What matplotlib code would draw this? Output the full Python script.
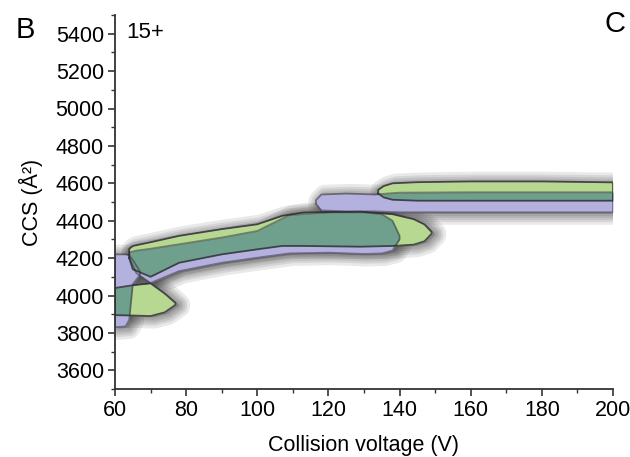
import numpy as np
import matplotlib
matplotlib.use('Agg')
import matplotlib.pyplot as plt
import matplotlib.patheffects as pe
from matplotlib.ticker import MultipleLocator

plt.rcParams['font.family'] = ['Liberation Sans', 'DejaVu Sans']

# ---------------- CIU features read off the fingerprint ----------------
# sample 1 (purple): collision voltage, lower CCS edge, upper CCS edge
a1_v  = [60, 63, 64, 65, 67]
a1_lo = [3830, 3835, 3870, 4060, 4110]
a1_hi = [4220, 4220, 4215, 4190, 4130]

a2_v  = [64, 66, 70, 78, 90, 100, 109, 120, 130, 135, 138, 140]
a2_lo = [4200, 4120, 4067, 4130, 4175, 4202, 4225, 4229, 4222, 4225, 4240, 4300]
a2_hi = [4230, 4240, 4250, 4274, 4310, 4345, 4430, 4445, 4445, 4435, 4400, 4320]

a3_v  = [116.5, 118, 125, 133, 140, 160, 200]
a3_lo = [4490, 4455, 4450, 4450, 4445, 4445, 4445]
a3_hi = [4510, 4540, 4545, 4540, 4550, 4552, 4552]

# sample 2 (green)
b1_v  = [60, 65, 70, 74, 77]
b1_lo = [3895, 3893, 3890, 3910, 3950]
b1_hi = [4040, 4055, 4065, 4010, 3960]

b2_v  = [64, 65, 70, 78, 90, 100, 107, 113, 129, 138, 144, 147, 149]
b2_lo = [4200, 4140, 4100, 4175, 4220, 4247, 4265, 4265, 4261, 4265, 4272, 4290, 4330]
b2_hi = [4250, 4265, 4285, 4319, 4355, 4381, 4426, 4444, 4448, 4435, 4408, 4380, 4340]

b3_v  = [134, 135.5, 138, 145, 160, 180, 200]
b3_lo = [4545, 4525, 4512, 4507, 4507, 4507, 4507]
b3_hi = [4565, 4585, 4600, 4606, 4610, 4610, 4605]

sample1 = [(a1_v, a1_lo, a1_hi), (a2_v, a2_lo, a2_hi), (a3_v, a3_lo, a3_hi)]
sample2 = [(b1_v, b1_lo, b1_hi), (b2_v, b2_lo, b2_hi), (b3_v, b3_lo, b3_hi)]

purple = '#b4b1de'
green = '#b7d891'
teal = '#6f9f8d'
edge = '#2f2a36'

fig = plt.figure(figsize=(6.3, 4.57), dpi=100)
ax = fig.add_axes([115/630, 1-389/457, 498/630, 374/457])

# soft grey halo under everything (a bit pushed to the right, like the original)
shadow = [pe.Stroke(linewidth=w, foreground='#3a3a3a', alpha=0.11, offset=(2.5, -1))
          for w in (16, 12, 9, 6, 3.5)]
for v, lo, hi in sample1 + sample2:
    p = ax.fill_between(v, lo, hi, color='#777777', alpha=0.0, lw=0)
    p.set_path_effects(shadow + [pe.Normal()])

for v, lo, hi in sample1:
    ax.fill_between(v, lo, hi, color=purple, lw=0)
for v, lo, hi in sample2:
    ax.fill_between(v, lo, hi, color=green, lw=0)

# overlap of the two samples
for va, la, ha in sample1:
    for vb, lb, hb in sample2:
        v0, v1 = max(va[0], vb[0]), min(va[-1], vb[-1])
        if v1 <= v0:
            continue
        vv = np.linspace(v0, v1, 400)
        lo = np.maximum(np.interp(vv, va, la), np.interp(vv, vb, lb))
        hi = np.minimum(np.interp(vv, va, ha), np.interp(vv, vb, hb))
        ax.fill_between(vv, lo, hi, where=hi > lo, interpolate=True, color=teal, lw=0)

# outlines
for feats, a in ((sample1, 0.5), (sample2, 0.8)):
    for v, lo, hi in feats:
        ax.plot(list(v) + list(v[::-1]) + [v[0]], list(lo) + list(hi[::-1]) + [lo[0]],
                color=edge, lw=1.3, alpha=a, solid_joinstyle='round')

ax.set_xlim(60, 200)
ax.set_ylim(3500, 5500)
ax.xaxis.set_major_locator(MultipleLocator(20))
ax.xaxis.set_minor_locator(MultipleLocator(10))
ax.yaxis.set_minor_locator(MultipleLocator(100))
ax.set_yticks(np.arange(3600, 5401, 200))

for s in ('top', 'right'):
    ax.spines[s].set_visible(False)
for s in ('left', 'bottom'):
    ax.spines[s].set_color('#333333')
    ax.spines[s].set_linewidth(1.3)
ax.tick_params(which='major', direction='out', length=5, width=1.2, color='#333333',
               labelsize=15.5, pad=3)
ax.tick_params(which='minor', direction='out', length=3, width=1.0, color='#333333')

ax.set_xlabel('Collision voltage (V)', fontsize=15.5, labelpad=10)
ax.set_ylabel('CCS (Å²)', fontsize=15.5, labelpad=9)

fig.text(126/630, 1-33/457, '15+', fontsize=16, ha='left', va='center')
fig.text(25/630, 1-30/457, 'B', fontsize=21, ha='center', va='center')
fig.text(615/630, 1-24/457, 'C', fontsize=21, ha='center', va='center')

fig.savefig('out.png', dpi=100)
